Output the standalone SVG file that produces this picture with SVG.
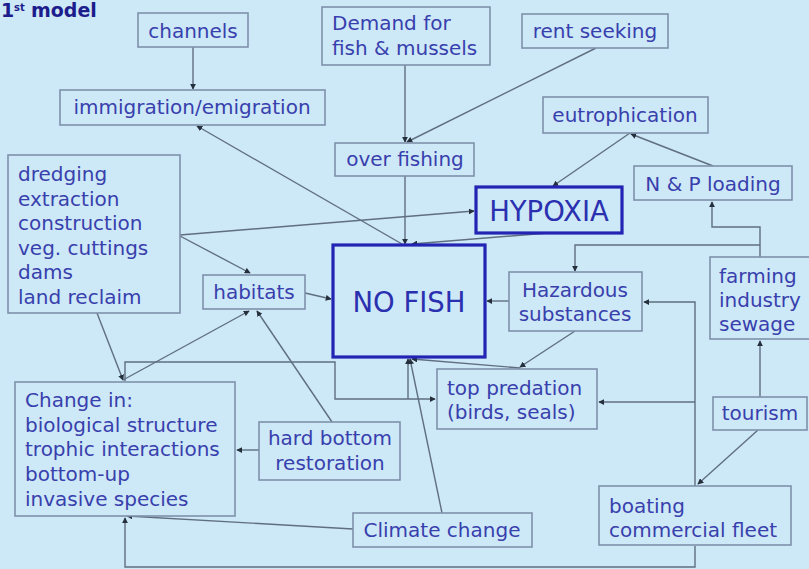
<svg xmlns="http://www.w3.org/2000/svg" width="809" height="569" viewBox="0 0 809 569">
  <style>
    .box { fill: #cde8f7; stroke: #7f91aa; stroke-width: 1.6; }
    .key { fill: #cde8f7; stroke: #2424b4; stroke-width: 3.2; }
    .t { font-family: "DejaVu Sans", Verdana, sans-serif; font-size: 20px; fill: #3840ad; }
    .big { font-family: "DejaVu Sans", Verdana, sans-serif; font-size: 27.5px; fill: #2a30b0; }
    .c { text-anchor: middle; }
    .lnk { fill: none; stroke: #5f6f80; stroke-width: 1.4; }
    .title { font-family: "DejaVu Sans", Verdana, sans-serif; font-weight: bold; fill: #1c1c8c; }
  </style>
  <defs>
    <marker id="arr" viewBox="0 0 8 8" refX="7" refY="4" markerWidth="6" markerHeight="6" markerUnits="userSpaceOnUse" orient="auto">
      <path d="M0,0 L8,4 L0,8 z" fill="#26303c"/>
    </marker>
  </defs>

  <rect x="0" y="0" width="809" height="569" fill="#cde8f7"/>

  <!-- heading -->
  <text class="title" x="1" y="17" font-size="19">1</text>
  <text class="title" x="14" y="11" font-size="10">st</text>
  <text class="title" x="31" y="17" font-size="19">model</text>

  <!-- connectors -->
  <g id="connectors" class="lnk" marker-end="url(#arr)">
    <path d="M193,47 V89"/>
    <path d="M405,65 V142"/>
    <path d="M596,48 L407,142"/>
    <path d="M405,176 V244"/>
    <path d="M402,244 L197,126"/>
    <path d="M548,233 L412,244"/>
    <path d="M630,133 L553,186"/>
    <path d="M713,166 L631,134"/>
    <path d="M760,257 V227 H712 V202"/>
    <path d="M760,245 H575 V271"/>
    <path d="M180,235 L474,211"/>
    <path d="M180,236 L250,273"/>
    <path d="M305,293 L331,299"/>
    <path d="M509,301 H487"/>
    <path d="M695,486 V302 H644"/>
    <path d="M695,402 H599"/>
    <path d="M760,397 V341"/>
    <path d="M758,430 L698,484"/>
    <path d="M575,331 L520,367"/>
    <path d="M520,368 L412,359"/>
    <path d="M442,513 L410,359"/>
    <path d="M125,381 V362 H335 V399 H435"/>
    <path d="M408,399 V359"/>
    <path d="M97,313 L123,380"/>
    <path d="M123,380 L249,311"/>
    <path d="M332,422 L257,311"/>
    <path d="M259,450 H237"/>
    <path d="M353,529 L127,516"/>
    <path d="M695,546 V567 H125 V518"/>
  </g>

  <g id="channels">
    <rect class="box" x="138" y="13" width="110" height="34"/>
    <text class="t c" x="193" y="38">channels</text>
  </g>
  <g id="demand">
    <rect class="box" x="322" y="7" width="168" height="58"/>
    <text class="t" x="332" y="30">Demand for</text>
    <text class="t" x="332" y="55">fish &amp; mussels</text>
  </g>
  <g id="rent-seeking">
    <rect class="box" x="522" y="14" width="146" height="34"/>
    <text class="t c" x="595" y="38">rent seeking</text>
  </g>
  <g id="immigration">
    <rect class="box" x="60" y="90" width="265" height="35"/>
    <text class="t c" x="192" y="114">immigration/emigration</text>
  </g>
  <g id="eutrophication">
    <rect class="box" x="543" y="97" width="165" height="36"/>
    <text class="t c" x="625" y="122">eutrophication</text>
  </g>
  <g id="over-fishing">
    <rect class="box" x="335" y="143" width="139" height="33"/>
    <text class="t c" x="405" y="166">over fishing</text>
  </g>
  <g id="np-loading">
    <rect class="box" x="634" y="166" width="158" height="34"/>
    <text class="t c" x="713" y="191">N &amp; P loading</text>
  </g>
  <g id="hypoxia">
    <rect class="key" x="476" y="187" width="146" height="46"/>
    <text class="big c" x="549" y="221">HYPOXIA</text>
  </g>
  <g id="pressures">
    <rect class="box" x="8" y="155" width="172" height="158"/>
    <text class="t" x="18" y="181">dredging</text>
    <text class="t" x="18" y="205.6">extraction</text>
    <text class="t" x="18" y="230.2">construction</text>
    <text class="t" x="18" y="254.8">veg. cuttings</text>
    <text class="t" x="18" y="279.4">dams</text>
    <text class="t" x="18" y="304">land reclaim</text>
  </g>
  <g id="habitats">
    <rect class="box" x="203" y="275" width="102" height="34"/>
    <text class="t c" x="254" y="299">habitats</text>
  </g>
  <g id="no-fish">
    <rect class="key" x="333" y="245" width="152" height="112"/>
    <text class="big c" x="409" y="312">NO FISH</text>
  </g>
  <g id="hazardous">
    <rect class="box" x="509" y="272" width="133" height="59"/>
    <text class="t c" x="575" y="297">Hazardous</text>
    <text class="t c" x="575" y="321">substances</text>
  </g>
  <g id="farming">
    <rect class="box" x="710" y="257" width="100" height="82"/>
    <text class="t" x="719" y="283">farming</text>
    <text class="t" x="719" y="307">industry</text>
    <text class="t" x="719" y="331">sewage</text>
  </g>
  <g id="top-predation">
    <rect class="box" x="437" y="369" width="160" height="60"/>
    <text class="t" x="447" y="395">top predation</text>
    <text class="t" x="447" y="419">(birds, seals)</text>
  </g>
  <g id="tourism">
    <rect class="box" x="713" y="397" width="94" height="33"/>
    <text class="t c" x="760" y="420">tourism</text>
  </g>
  <g id="change-in">
    <rect class="box" x="15" y="382" width="220" height="134"/>
    <text class="t" x="25" y="407">Change in:</text>
    <text class="t" x="25" y="431.7">biological structure</text>
    <text class="t" x="25" y="456.4">trophic interactions</text>
    <text class="t" x="25" y="481">bottom-up</text>
    <text class="t" x="25" y="505.8">invasive species</text>
  </g>
  <g id="hard-bottom">
    <rect class="box" x="259" y="422" width="141" height="58"/>
    <text class="t c" x="330" y="445">hard bottom</text>
    <text class="t c" x="330" y="470">restoration</text>
  </g>
  <g id="climate-change">
    <rect class="box" x="353" y="513" width="179" height="34"/>
    <text class="t c" x="442" y="537">Climate change</text>
  </g>
  <g id="boating">
    <rect class="box" x="599" y="486" width="192" height="59"/>
    <text class="t" x="609" y="513">boating</text>
    <text class="t" x="609" y="537">commercial fleet</text>
  </g>
</svg>
